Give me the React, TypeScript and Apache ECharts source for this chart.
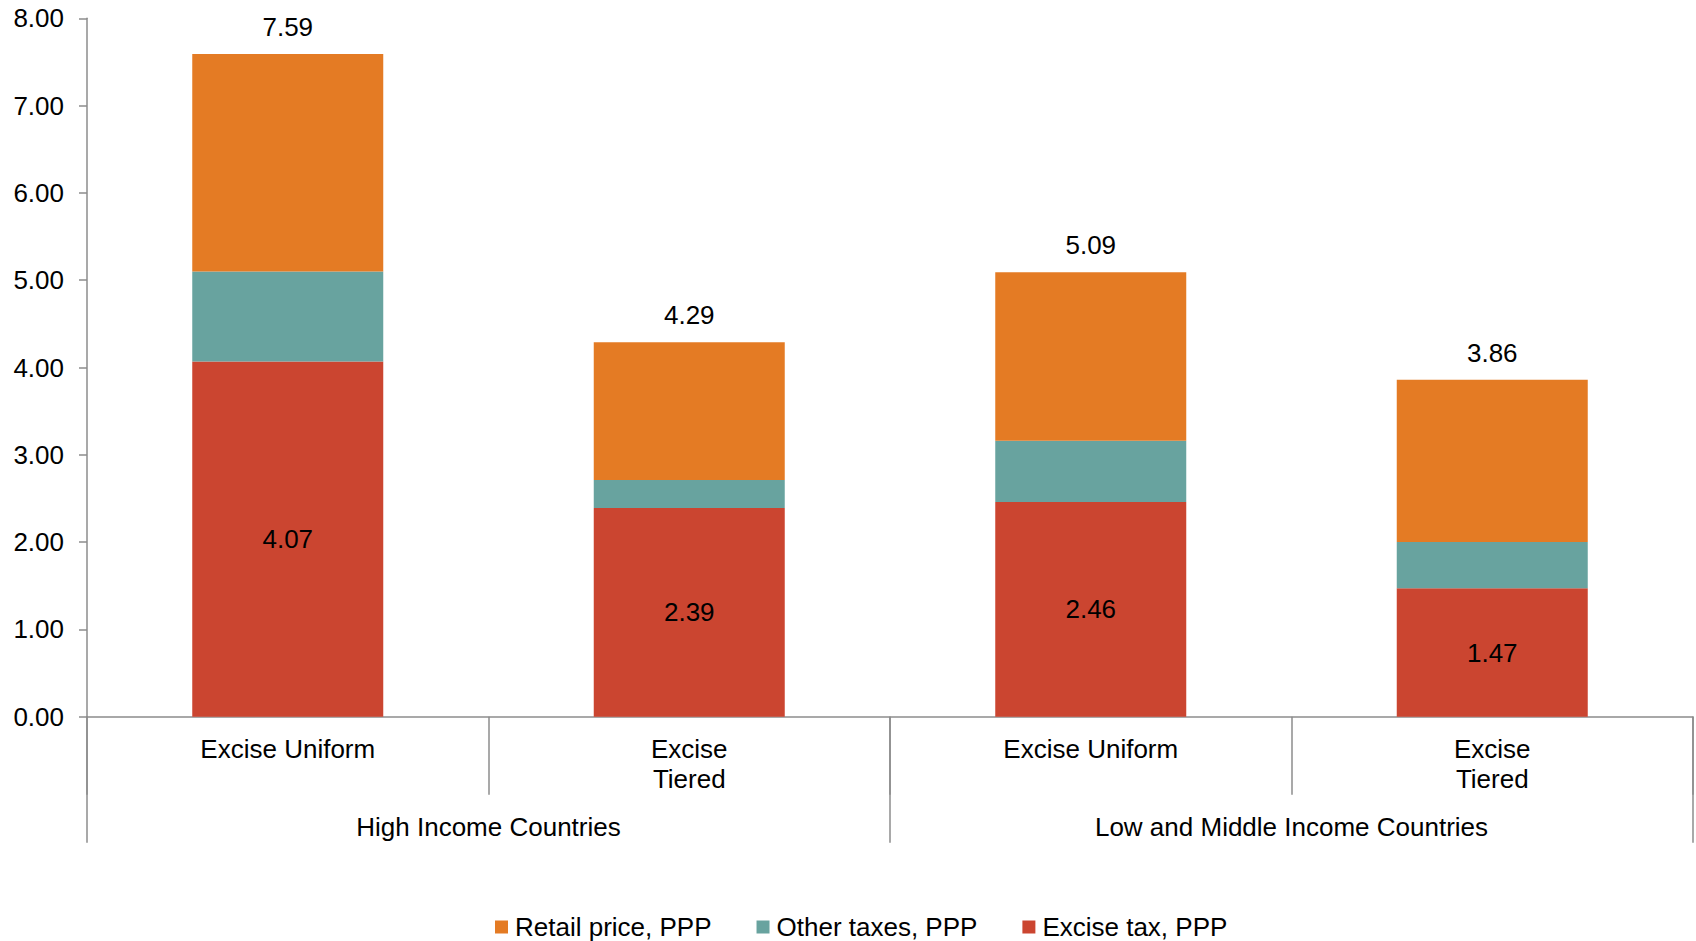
import React, { useEffect, useRef } from "react";
import * as echarts from "echarts";

const categories = ["Excise Uniform", "Excise Tiered", "Excise Uniform", "Excise Tiered"];
const groups = ["High Income Countries", "Low and Middle Income Countries"];
const exciseTax = [4.07, 2.39, 2.46, 1.47];
const otherTaxes = [1.03, 0.32, 0.7, 0.53];
const retailPrice = [2.49, 1.58, 1.93, 1.86];
const yTicks = { min: 0, max: 8, interval: 1 };

const FONT = "'Liberation Sans', Arial, sans-serif";
const AXIS_COLOR = "#8c8c8c";

export default function App() {
  const ref = useRef<HTMLDivElement>(null);
  useEffect(() => {
    if (!ref.current) return;
    const chart = echarts.init(ref.current, undefined, { renderer: "svg" });
    const totals = exciseTax.map((v, i) => v + otherTaxes[i] + retailPrice[i]);
    chart.setOption({
      animation: false,
      textStyle: { fontFamily: FONT, fontSize: 26, color: "#000" },
      grid: { left: 87, right: 3, top: 18.3, bottom: 224.3, containLabel: false },
      legend: {
        data: ["Retail price, PPP", "Other taxes, PPP", "Excise tax, PPP"],
        left: 490,
        top: 909,
        icon: "rect",
        itemWidth: 13,
        itemHeight: 13,
        itemGap: 45,
        textStyle: { fontFamily: FONT, fontSize: 26, color: "#000", padding: [0, 0, 0, 2] },
      },
      xAxis: [
        {
          type: "category",
          data: categories,
          position: "bottom",
          axisLine: { show: true, lineStyle: { color: AXIS_COLOR, width: 1.5 } },
          axisTick: { show: true, interval: 0, length: 78, lineStyle: { color: AXIS_COLOR, width: 1.5 } },
          axisLabel: {
            interval: 0,
            margin: 17,
            fontFamily: FONT,
            fontSize: 26,
            color: "#000",
            lineHeight: 30,
            formatter: (v: string) => v.replace("Excise Tiered", "Excise\nTiered"),
          },
        },
        {
          type: "category",
          data: groups,
          position: "bottom",
          axisLine: { show: false },
          axisTick: { show: true, interval: 0, length: 126, lineStyle: { color: AXIS_COLOR, width: 1.5 } },
          axisLabel: {
            interval: 0,
            margin: 97,
            fontFamily: FONT,
            fontSize: 26,
            color: "#000",
          },
        },
      ],
      yAxis: {
        type: "value",
        min: yTicks.min,
        max: yTicks.max,
        interval: yTicks.interval,
        axisLine: { show: true, lineStyle: { color: AXIS_COLOR, width: 1.5 } },
        axisTick: { show: true, length: 8, lineStyle: { color: AXIS_COLOR, width: 1.5 } },
        splitLine: { show: false },
        axisLabel: {
          margin: 23,
          fontFamily: FONT,
          fontSize: 26,
          color: "#000",
          formatter: (v: number) => v.toFixed(2),
        },
      },
      series: [
        {
          name: "Excise tax, PPP",
          type: "bar",
          stack: "total",
          data: exciseTax,
          barWidth: 191,
          itemStyle: { color: "#CB4530" },
          label: {
            show: true,
            position: "inside",
            fontFamily: FONT,
            fontSize: 26,
            color: "#000",
            formatter: (p: any) => Number(p.value).toFixed(2),
          },
        },
        {
          name: "Other taxes, PPP",
          type: "bar",
          stack: "total",
          data: otherTaxes,
          barWidth: 191,
          itemStyle: { color: "#68A39F" },
        },
        {
          name: "Retail price, PPP",
          type: "bar",
          stack: "total",
          data: retailPrice,
          barWidth: 191,
          itemStyle: { color: "#E47B24" },
          label: {
            show: true,
            position: "top",
            distance: 14,
            fontFamily: FONT,
            fontSize: 26,
            color: "#000",
            formatter: (p: any) => totals[p.dataIndex].toFixed(2),
          },
        },
      ],
    });
    return () => chart.dispose();
  }, []);
  return (
    <div
      ref={ref}
      style={{ position: "fixed", left: 0, top: 0, width: 1696, height: 941, background: "#fff" }}
    />
  );
}
